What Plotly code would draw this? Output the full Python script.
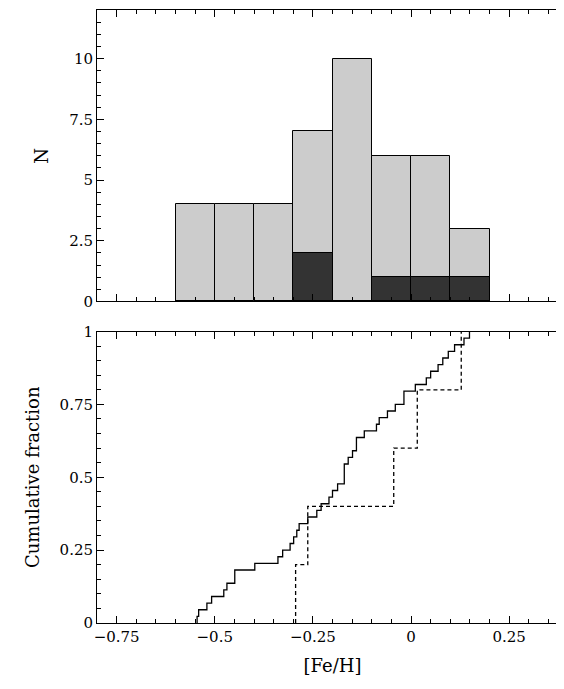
import numpy as np
import plotly.graph_objects as go
from plotly.subplots import make_subplots

feh_all = [-0.545, -0.541, -0.520, -0.508,
           -0.477, -0.469, -0.449, -0.449,
           -0.398, -0.339, -0.327, -0.308,
           -0.299, -0.291, -0.285, -0.263, -0.240, -0.229, -0.209,
           -0.200, -0.187, -0.170, -0.170, -0.170, -0.160, -0.149, -0.139, -0.139, -0.119,
           -0.088, -0.081, -0.060, -0.040, -0.018, -0.018,
           0.011, 0.039, 0.050, 0.069, 0.081, 0.095,
           0.111, 0.135, 0.149]
feh_sub = [-0.294, -0.263, -0.044, 0.016, 0.128]

font = "DejaVu Serif, Liberation Serif, serif"
fig = make_subplots(rows=2, cols=1, vertical_spacing=0.049)

for vals, col in [(feh_all, "#cccccc"), (feh_sub, "#333333")]:
    fig.add_trace(go.Histogram(x=vals, xbins=dict(start=-0.6, end=0.2, size=0.1),
                               marker=dict(color=col, line=dict(color="black", width=1)),
                               showlegend=False), row=1, col=1)

def ecdf(v):
    s = np.sort(np.array(v))
    x = np.concatenate([[s[0]], s])
    y = np.concatenate([[0], np.arange(1, len(s) + 1) / len(s)])
    return x, y

x, y = ecdf(feh_all)
fig.add_trace(go.Scatter(x=x, y=y, mode="lines", line=dict(shape="hv", color="black", width=1.3),
                         showlegend=False), row=2, col=1)
x, y = ecdf(feh_sub)
fig.add_trace(go.Scatter(x=x, y=y, mode="lines", line=dict(shape="hv", color="black", width=1.3, dash="4px,3px"),
                         showlegend=False), row=2, col=1)

ax = dict(showline=True, mirror="ticks", linecolor="black", linewidth=1, ticks="inside",
          ticklen=7, tickcolor="black", showgrid=False, zeroline=False, automargin=False,
          minor=dict(ticks="inside", ticklen=4, tickcolor="black"))
fig.update_xaxes(**ax, range=[-0.8, 0.4], tickvals=[-0.75, -0.5, -0.25, 0, 0.25],
                 ticktext=["−0.75", "−0.5", "−0.25", "0", "0.25"])
fig.update_xaxes(showticklabels=False, row=1, col=1)
fig.update_xaxes(title_text="[Fe/H]", title_standoff=14, row=2, col=1)
fig.update_yaxes(**ax)
fig.update_yaxes(range=[0, 12], tickvals=[0, 2.5, 5, 7.5, 10], ticktext=["0", "2.5", "5", "7.5", "10"],
                 title_text="N", row=1, col=1)
fig.update_yaxes(range=[0, 1], tickvals=[0, 0.25, 0.5, 0.75, 1], ticktext=["0", "0.25", "0.5", "0.75", "1"],
                 title_text="Cumulative fraction", row=2, col=1)

fig.update_layout(width=564, height=689, margin=dict(l=89, r=4, t=2, b=74, pad=0),
                  plot_bgcolor="white", paper_bgcolor="white", bargap=0, barmode="overlay",
                  font=dict(family=font, size=15, color="black"))
fig.update_traces(opacity=1, selector=dict(type="histogram"))
fig.write_html("out.html")
